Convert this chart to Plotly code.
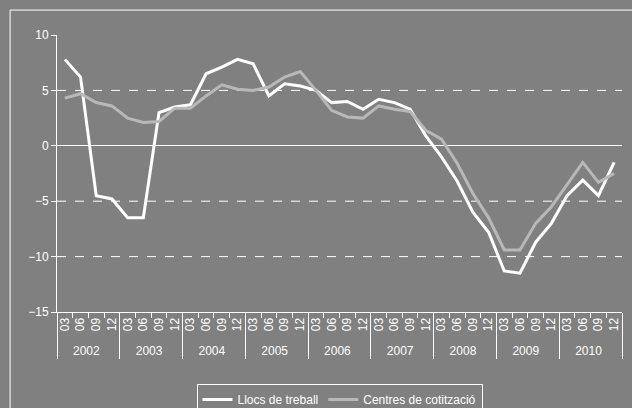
import plotly.graph_objects as go

years = ["2002", "2003", "2004", "2005", "2006", "2007", "2008", "2009", "2010"]
months = ["03", "06", "09", "12"]

llocs = [7.8, 6.2, -4.5, -4.8, -6.5, -6.5, 3.0, 3.5, 3.7, 6.5, 7.1, 7.8,
         7.4, 4.5, 5.6, 5.4, 5.0, 3.9, 4.0, 3.3, 4.2, 3.9, 3.3, 0.9,
         -1.0, -3.2, -6.0, -7.8, -11.3, -11.5, -8.7, -7.0, -4.5, -3.1, -4.5, -1.5]
centres = [4.3, 4.7, 3.9, 3.6, 2.5, 2.1, 2.2, 3.4, 3.4, 4.5, 5.5, 5.1,
           5.0, 5.3, 6.2, 6.7, 5.0, 3.2, 2.6, 2.5, 3.6, 3.3, 3.1, 1.4,
           0.6, -1.6, -4.3, -6.5, -9.4, -9.4, -7.0, -5.5, -3.5, -1.5, -3.3, -2.5]
grid_lines = [5, -5, -10]

x = [[y for y in years for m in months], [m for y in years for m in months]]

fig = go.Figure()
fig.add_scatter(x=x, y=llocs, mode="lines", name="Llocs de treball",
                line=dict(color="white", width=3))
fig.add_scatter(x=x, y=centres, mode="lines", name="Centres de cotització",
                line=dict(color="#b8b8b8", width=3))

shapes = [dict(type="line", xref="x domain", yref="y", x0=0, x1=1, y0=v, y1=v,
               layer="below", line=dict(color="white", width=1, dash="dash"))
          for v in grid_lines]
# outer frame of the chart
shapes.append(dict(type="rect", xref="paper", yref="paper", x0=-0.083, x1=1.03,
                   y0=-0.5, y1=1.09, line=dict(color="white", width=1)))

fig.update_layout(
    width=632, height=408,
    paper_bgcolor="#808080", plot_bgcolor="#808080",
    margin=dict(l=57, r=10, t=35, b=96, autoexpand=False),
    font=dict(family="Liberation Sans, Arial", size=12, color="white"),
    showlegend=True,
    legend=dict(orientation="h", x=0.5, xanchor="center", y=-0.26, yanchor="top",
                bordercolor="white", borderwidth=1, font=dict(size=12),
                bgcolor="#808080"),
    shapes=shapes,
)
fig.update_xaxes(type="multicategory", tickangle=-90, showgrid=False,
                 range=[-0.5, 35.5],
                 showline=True, linecolor="white", ticks="outside",
                 tickcolor="white", showdividers=True, dividercolor="white",
                 tickfont=dict(size=12))
fig.update_yaxes(range=[-15, 10], dtick=5, showgrid=False, zeroline=True,
                 zerolinecolor="white", zerolinewidth=1, showline=True,
                 linecolor="white", ticks="outside", tickcolor="white")

fig.write_html("out.html", config={"displayModeBar": False},
               post_script="document.body.style.margin='0';document.body.style.overflow='hidden';")
